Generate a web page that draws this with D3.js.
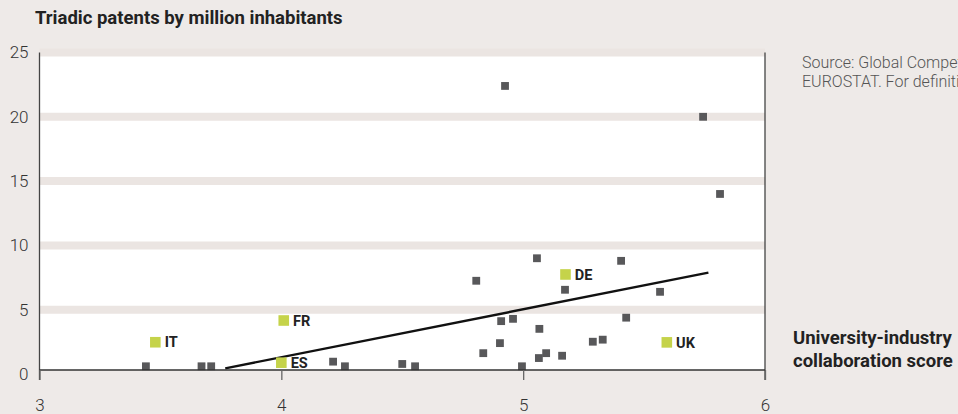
<!DOCTYPE html>
<html>
<head>
<meta charset="utf-8">
<script src="https://cdn.jsdelivr.net/npm/d3@7"></script>
<style>
  html, body { margin: 0; padding: 0; background: #eeeae8; overflow: hidden; }
  svg { display: block; }
  text { font-family: Roboto, "DejaVu Sans", sans-serif; }
</style>
</head>
<body>
<svg id="chart" width="958" height="414"></svg>
<script>
// ---- data ----
const xTicks = [3, 4, 5, 6];
const yTicks = [0, 5, 10, 15, 20, 25];
const grayX = [3.44, 3.67, 3.71, 4.214, 4.263, 4.50, 4.553, 4.806, 4.835, 4.904, 4.909, 4.925, 4.958, 4.995, 5.057, 5.065, 5.067, 5.095, 5.161, 5.173, 5.288, 5.329, 5.405, 5.426, 5.566, 5.744, 5.814];
const grayY = [0.6, 0.6, 0.6, 0.96, 0.6, 0.78, 0.6, 7.25, 1.62, 2.40, 4.11, 22.4, 4.29, 0.6, 9.0, 1.24, 3.51, 1.62, 1.42, 6.55, 2.51, 2.67, 8.8, 4.38, 6.39, 20.0, 14.0];
const labels = ["IT", "FR", "ES", "DE", "UK"];
const labelX = [3.479, 4.01, 4.00, 5.175, 5.594];
const labelY = [2.47, 4.16, 0.88, 7.74, 2.46];
const trendX = [3.768, 5.766];
const trendY = [0.44, 7.88];
const title = "Triadic patents by million inhabitants";
const xTitle = ["University-industry", "collaboration score"];
const source = ["Source: Global Competitiveness Report and", "EUROSTAT. For definitions see annex."];

// ---- scales ----
const svg = d3.select("#chart");
const x = d3.scaleLinear().domain([3, 6]).range([39.5, 765]);
const y = d3.scaleLinear().domain([0, 25]).range([374, 52.5]);
const axisY = 370;

// plot background
svg.append("rect")
  .attr("x", x(3)).attr("y", y(25))
  .attr("width", x(6) - x(3)).attr("height", axisY - y(25))
  .attr("fill", "#ffffff");

// grid bands
svg.append("g").selectAll("line")
  .data(yTicks.filter(d => d > 0))
  .join("line")
  .attr("x1", x(3)).attr("x2", x(6))
  .attr("y1", d => y(d)).attr("y2", d => y(d))
  .attr("stroke", "#ebe5e2").attr("stroke-width", 8);

// trend line
const pts = trendX.map((d, i) => [d, trendY[i]]);
svg.append("path")
  .attr("d", d3.line().x(d => x(d[0])).y(d => y(d[1]))(pts))
  .attr("stroke", "#111").attr("stroke-width", 2.4).attr("fill", "none");

// gray points
const gs = 7.8;
svg.append("g").selectAll("rect")
  .data(grayX.map((d, i) => [d, grayY[i]]))
  .join("rect")
  .attr("x", d => x(d[0]) - gs / 2).attr("y", d => y(d[1]) - gs / 2)
  .attr("width", gs).attr("height", gs)
  .attr("fill", "#58585a");

// labelled points
const ls = 10.6;
const lab = svg.append("g").selectAll("g")
  .data(labels.map((d, i) => ({ name: d, x: labelX[i], y: labelY[i] })))
  .join("g");
lab.append("rect")
  .attr("x", d => x(d.x) - ls / 2).attr("y", d => y(d.y) - ls / 2)
  .attr("width", ls).attr("height", ls)
  .attr("fill", "#c5d34a");
lab.append("text")
  .attr("x", d => x(d.x) + ls / 2 + 4).attr("y", d => y(d.y))
  .attr("dy", "0.36em")
  .attr("font-size", 14.5).attr("font-weight", 700).attr("fill", "#222")
  .text(d => d.name);

// axes
const yAxis = svg.append("g").attr("transform", `translate(${x(3)},0)`)
  .call(d3.axisLeft(y).tickValues(yTicks).tickSize(0).tickPadding(11));
yAxis.select(".domain").remove();
yAxis.selectAll("text").attr("font-size", 17).attr("font-weight", 300).attr("fill", "#333")
  .attr("font-family", "Roboto, sans-serif");

svg.append("line").attr("x1", x(3)).attr("x2", x(3)).attr("y1", y(25)).attr("y2", axisY + 10)
  .attr("stroke", "#444").attr("stroke-width", 1.3);
svg.append("line").attr("x1", x(6)).attr("x2", x(6)).attr("y1", y(25)).attr("y2", axisY + 10)
  .attr("stroke", "#444").attr("stroke-width", 1.3);

const xAxis = svg.append("g").attr("transform", `translate(0,${axisY})`)
  .call(d3.axisBottom(x).tickValues(xTicks).tickSize(10).tickPadding(19).tickFormat(d3.format("d")));
xAxis.select(".domain").attr("stroke", "#333").attr("stroke-width", 1.6)
  .attr("d", `M${x(3)},0H${x(6)}`);
xAxis.selectAll(".tick line").attr("stroke", "#666").attr("stroke-width", 1.3);
xAxis.selectAll("text").attr("font-size", 17).attr("font-weight", 300).attr("fill", "#333")
  .attr("font-family", "Roboto, sans-serif");

// title
svg.append("text").attr("x", 35).attr("y", 24)
  .attr("font-size", 18.5).attr("font-weight", 700).attr("fill", "#222")
  .text(title);

// x axis title
svg.append("g").selectAll("text").data(xTitle).join("text")
  .attr("x", 793).attr("y", (d, i) => 344 + i * 22.5)
  .attr("font-size", 18.5).attr("font-weight", 700).attr("fill", "#222")
  .text(d => d);

// source
svg.append("g").selectAll("text").data(source).join("text")
  .attr("x", 802).attr("y", (d, i) => 67.5 + i * 19.5)
  .attr("font-size", 16).attr("font-weight", 300).attr("fill", "#555")
  .text(d => d);
</script>
</body>
</html>
